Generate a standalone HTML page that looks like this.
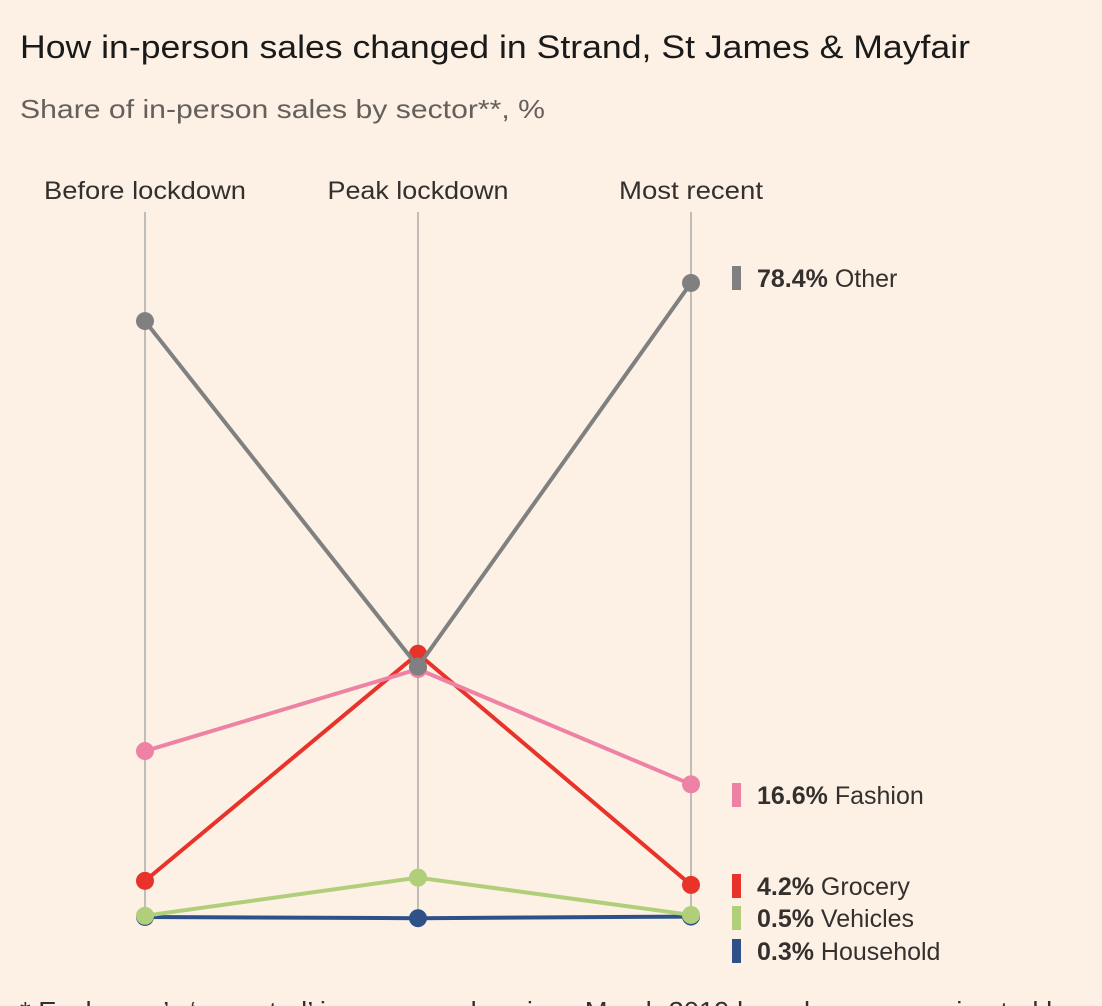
<!DOCTYPE html>
<html><head><meta charset="utf-8"><style>
body{margin:0;width:1102px;height:1006px;background:#fdf1e5;overflow:hidden;font-family:"Liberation Sans",sans-serif;}
svg{position:absolute;left:0;top:0}
</style></head><body>
<svg width="1102" height="1006">
<text x="20" y="58" font-size="32" fill="#1a1a1a" textLength="950" lengthAdjust="spacingAndGlyphs">How in-person sales changed in Strand, St James &amp; Mayfair</text>
<text x="20" y="118" font-size="26" fill="#66605c" textLength="525" lengthAdjust="spacingAndGlyphs">Share of in-person sales by sector**, %</text>
<g id="axes"></g><g id="series"></g><g id="labels"></g>
<text x="20" y="1020" font-size="26" fill="#33302e" textLength="1055" lengthAdjust="spacingAndGlyphs">* Each area’s ‘expected’ in-person sales since March 2019 have been approximated by</text>
</svg>
<script>
const periods=["Before lockdown","Peak lockdown","Most recent"];
const periodWidths=[202,181,144];
const names=["Other","Fashion","Grocery","Vehicles","Household"];
const colors=["#808080","#ee82a4","#e8332a","#b1cf7b","#2e5288"];
const other=[73.7,31.1,78.4];
const fashion=[20.7,30.8,16.6];
const grocery=[4.7,32.7,4.2];
const vehicles=[0.4,5.1,0.5];
const household=[0.25,0.1,0.3];
const labelY=[278,795,886,918,951];
const series=[other,fashion,grocery,vehicles,household];
const ns="http://www.w3.org/2000/svg";
const xs=i=>145+i*273;
const ys=v=>919-v*8.113;
const ax=document.getElementById('axes'),sg=document.getElementById('series'),lg=document.getElementById('labels');
function mk(t,a,p){const e=document.createElementNS(ns,t);for(const k in a)e.setAttribute(k,a[k]);p.appendChild(e);return e;}
periods.forEach((p,i)=>{
 const l=mk('line',{x1:xs(i),x2:xs(i),y1:212,y2:920,stroke:'#999',"stroke-width":1.2},ax);
 
 
 const t=mk('text',{x:xs(i),y:199,"font-size":25,fill:'#33302e',"text-anchor":'middle',textLength:periodWidths[i],lengthAdjust:'spacingAndGlyphs'},ax);t.textContent=p;
 
 
});
for(let s=series.length-1;s>=0;s--){
 const d=series[s];
 const pl=mk('polyline',{points:d.map((v,i)=>xs(i)+','+ys(v)).join(' '),fill:'none',stroke:colors[s],"stroke-width":4},sg);
 
 
 d.forEach((v,i)=>{const c=mk('circle',{cx:xs(i),cy:ys(v),r:9,fill:colors[s]},sg);
 
 });
}
names.forEach((n,s)=>{
 const y=labelY[s];
 const r=mk('rect',{x:732,y:y-12,width:9,height:24,fill:colors[s]},lg);
 
 
 const t=mk('text',{x:757,y:y+9,"font-size":25,fill:'#33302e'},lg);
 t.innerHTML='<tspan font-weight="bold">'+series[s][2].toFixed(1)+'%</tspan> '+n;
 
 
});
</script>
</body></html>
